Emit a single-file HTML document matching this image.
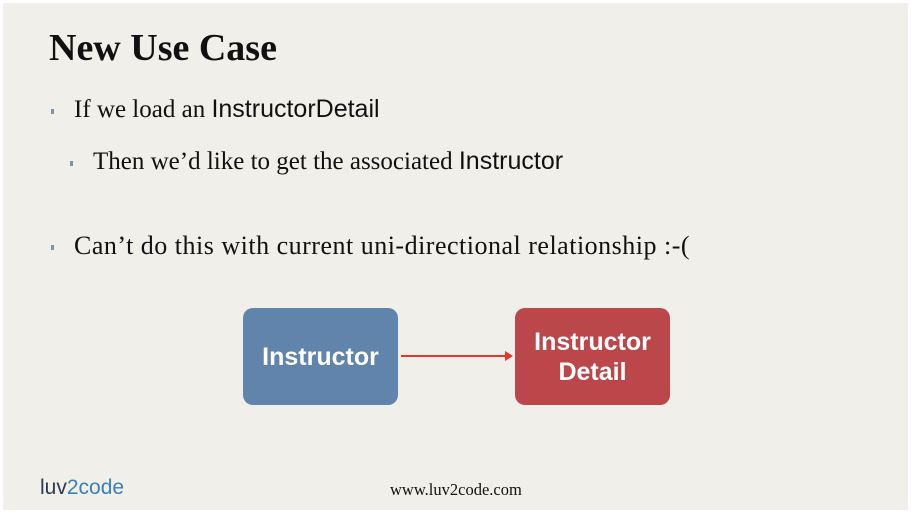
<!DOCTYPE html>
<html><head><style>
body{margin:0;width:911px;height:514px;background:#fff;overflow:hidden;position:relative;font-family:"Liberation Serif",serif;}
.slide{position:absolute;left:3px;top:3px;width:905px;height:507px;background:#f1efea;}
.t{position:absolute;white-space:nowrap;color:#111;}
.s{font-family:"Liberation Sans",sans-serif;font-size:25px;}
.dot{position:absolute;width:3px;height:5px;background:#7b93ad;}
.box{position:absolute;border-radius:10px;color:#fff;font-family:"Liberation Sans",sans-serif;font-weight:bold;font-size:25px;text-align:center;display:flex;align-items:center;justify-content:center;line-height:30px;}
</style></head><body>
<div class="slide"></div>
<div class="t" style="left:49px;top:26px;font-size:38px;font-weight:bold;letter-spacing:0px;">New Use Case</div>
<div class="dot" style="left:51px;top:109px"></div>
<div class="t" style="left:74px;top:95px;font-size:25px;">If we load an <span class="s">InstructorDetail</span></div>
<div class="dot" style="left:70px;top:161px"></div>
<div class="t" style="left:93px;top:147px;font-size:25px;">Then we’d like to get the associated <span class="s">Instructor</span></div>
<div class="dot" style="left:51px;top:245px"></div>
<div class="t" style="left:74px;top:231px;font-size:26px;letter-spacing:0.5px;">Can’t do this with current uni-directional relationship :-(</div>
<div class="box" style="left:243px;top:308px;width:155px;height:97px;background:#6084ab;">Instructor</div>
<div class="box" style="left:515px;top:308px;width:155px;height:97px;background:#bb474b;">Instructor<br>Detail</div>
<svg style="position:absolute;left:0;top:0" width="911" height="514">
<line x1="401" y1="356" x2="506" y2="356" stroke="#e8352a" stroke-width="2"/>
<polygon points="505,351 513,356 505,361" fill="#e8352a"/>
</svg>
<div class="t" style="left:40px;top:476px;font-family:'Liberation Sans',sans-serif;font-size:21px;color:#2d3a4f;">luv<span style="color:#3b7fb8">2</span><span style="color:#3b7fb8">code</span></div>
<div class="t" style="left:390px;top:480px;font-size:16.5px;">www.luv2code.com</div>
</body></html>
